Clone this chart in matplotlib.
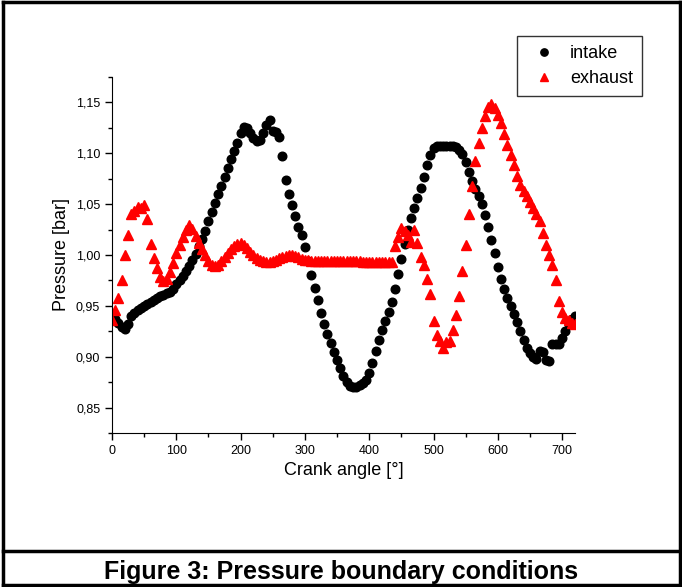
import matplotlib
matplotlib.use("Agg")
import matplotlib.pyplot as plt
from matplotlib.ticker import MultipleLocator, FuncFormatter
from matplotlib.lines import Line2D

plt.rcParams['font.family'] = ['Liberation Sans', 'DejaVu Sans']

# crank angle [deg], one sample every 5 degrees
angle = list(range(0, 721, 5))

intake = [
    0.939, 0.937, 0.933, 0.929, 0.927, 0.932, 0.940, 0.943, 0.946, 0.948,  # 0-45
    0.950, 0.952, 0.954, 0.956, 0.958, 0.960, 0.961, 0.963, 0.964, 0.967,  # 50-95
    0.971, 0.975, 0.979, 0.984, 0.989, 0.995, 1.001, 1.009, 1.016, 1.024,  # 100-145
    1.033, 1.042, 1.051, 1.060, 1.068, 1.077, 1.086, 1.094, 1.102, 1.110,  # 150-195
    1.120, 1.126, 1.125, 1.120, 1.115, 1.112, 1.113, 1.120, 1.128, 1.133,  # 200-245
    1.122, 1.121, 1.116, 1.097, 1.074, 1.060, 1.049, 1.038, 1.028, 1.020,  # 250-295
    1.008, 0.994, 0.980, 0.968, 0.956, 0.943, 0.932, 0.922, 0.913, 0.905,  # 300-345
    0.897, 0.889, 0.881, 0.875, 0.871, 0.870, 0.870, 0.872, 0.874, 0.877,  # 350-395
    0.884, 0.894, 0.906, 0.916, 0.926, 0.935, 0.944, 0.954, 0.967, 0.981,  # 400-445
    0.996, 1.011, 1.025, 1.036, 1.046, 1.056, 1.066, 1.077, 1.088, 1.098,  # 450-495
    1.105, 1.107, 1.107, 1.107, 1.107, 1.107, 1.107, 1.106, 1.103, 1.099,  # 500-545
    1.091, 1.082, 1.073, 1.065, 1.058, 1.050, 1.039, 1.028, 1.015, 1.002,  # 550-595
    0.988, 0.976, 0.967, 0.958, 0.950, 0.942, 0.934, 0.925, 0.916, 0.909,  # 600-645
    0.904, 0.900, 0.898, 0.906, 0.905, 0.897, 0.896, 0.912, 0.912, 0.912,  # 650-695
    0.918, 0.925, 0.932, 0.937, 0.940,                                     # 700-720
]

exhaust = [
    0.936, 0.946, 0.958, 0.975, 1.000, 1.020, 1.040, 1.043, 1.047, 1.046,  # 0-45
    1.049, 1.035, 1.011, 0.997, 0.987, 0.978, 0.974, 0.976, 0.983, 0.992,  # 50-95
    1.002, 1.010, 1.018, 1.025, 1.029, 1.026, 1.019, 1.012, 1.006, 1.000,  # 100-145
    0.994, 0.990, 0.989, 0.990, 0.994, 0.998, 1.002, 1.006, 1.009, 1.011,  # 150-195
    1.012, 1.010, 1.007, 1.003, 1.000, 0.997, 0.995, 0.994, 0.993, 0.993,  # 200-245
    0.994, 0.995, 0.997, 0.998, 0.999, 1.000, 1.000, 0.999, 0.998, 0.996,  # 250-295
    0.995, 0.995, 0.994, 0.994, 0.994, 0.994, 0.994, 0.994, 0.994, 0.994,  # 300-345
    0.994, 0.994, 0.994, 0.994, 0.994, 0.994, 0.994, 0.994, 0.993, 0.993,  # 350-395
    0.993, 0.993, 0.993, 0.993, 0.993, 0.993, 0.993, 0.993, 1.009, 1.018,  # 400-445
    1.027, 1.024, 1.020, 1.013, 1.025, 1.012, 0.998, 0.990, 0.976, 0.962,  # 450-495
    0.935, 0.921, 0.915, 0.909, 0.914, 0.915, 0.926, 0.941, 0.960, 0.984,  # 500-545
    1.010, 1.040, 1.068, 1.092, 1.110, 1.125, 1.137, 1.146, 1.148, 1.145,  # 550-595
    1.138, 1.130, 1.119, 1.108, 1.098, 1.088, 1.078, 1.069, 1.063, 1.058,  # 600-645
    1.052, 1.046, 1.040, 1.033, 1.022, 1.010, 1.000, 0.990, 0.975, 0.955,  # 650-695
    0.944, 0.938, 0.936, 0.933, 0.932,                                     # 700-720
]

fig = plt.figure(figsize=(6.82, 5.87), dpi=100)
fig.patch.set_facecolor('white')
ax = fig.add_axes([0.1642, 0.2624, 0.6789, 0.6064])

ax.plot(angle, intake, 'o', color='black', markersize=6.2, label='intake')
ax.plot(angle, exhaust, '^', color='red', markersize=6.8, label='exhaust')

ax.set_xlim(0, 720)
ax.set_ylim(0.825, 1.175)
ax.spines['top'].set_visible(False)
ax.spines['right'].set_visible(False)
ax.xaxis.set_major_locator(MultipleLocator(100))
ax.xaxis.set_minor_locator(MultipleLocator(50))
ax.yaxis.set_major_locator(MultipleLocator(0.05))
ax.yaxis.set_minor_locator(MultipleLocator(0.025))
ax.yaxis.set_major_formatter(FuncFormatter(lambda v, p: f"{v:.2f}".replace('.', ',')))
ax.tick_params(which='major', direction='out', length=5, width=1, labelsize=9)
ax.tick_params(which='minor', direction='out', length=3, width=1)
ax.set_xlabel('Crank angle [°]', fontsize=13)
ax.set_ylabel('Pressure [bar]', fontsize=13)

leg = fig.legend(loc='upper left', bbox_to_anchor=(0.758, 0.939), borderaxespad=0,
                 fontsize=13, markerscale=0.85, frameon=True, fancybox=False,
                 edgecolor='black', handlelength=2.0, handletextpad=0.45,
                 borderpad=0.5, labelspacing=0.45)
leg.get_frame().set_linewidth(1)

# outer frame and caption box
fig.add_artist(Line2D([0.004, 0.997], [0.996, 0.996], color='black', lw=2.5))
fig.add_artist(Line2D([0.004, 0.004], [0.004, 0.996], color='black', lw=2.5))
fig.add_artist(Line2D([0.997, 0.997], [0.004, 0.996], color='black', lw=2.5))
fig.add_artist(Line2D([0.004, 0.997], [0.004, 0.004], color='black', lw=2.5))
fig.add_artist(Line2D([0.004, 0.997], [0.061, 0.061], color='black', lw=2.5))
fig.text(0.5, 0.026, 'Figure 3: Pressure boundary conditions', ha='center', va='center',
         fontsize=18, fontweight='bold')

fig.savefig('out.png', dpi=100)
